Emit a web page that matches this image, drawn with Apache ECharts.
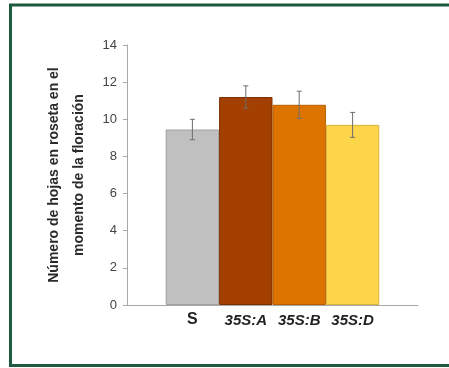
<!DOCTYPE html>
<html>
<head>
<meta charset="utf-8">
<script src="https://cdn.jsdelivr.net/npm/echarts@6/dist/echarts.min.js"></script>
<style>html,body{margin:0;padding:0;background:#fff;}#c{width:449px;height:368px;}</style>
</head>
<body>
<div id="c"></div>
<script>
var lineas = ['S', '35S:A', '35S:B', '35S:D'];
var hojas = [9.45, 11.2, 10.78, 9.7];
var errores = [0.55, 0.6, 0.73, 0.67];
var colores = ['#c0c0c0', '#a33f00', '#dd7400', '#fdd54a'];
var bordes = ['#a0a0a0', '#7d3000', '#b85f00', '#d8b23a'];
var yTicks = [0, 2, 4, 6, 8, 10, 12, 14];

var GAP = 0.266;
var chart = echarts.init(document.getElementById('c'));
var series = lineas.map(function (n, i) {
  return {
    name: n, type: 'bar', data: [hojas[i]], barGap: '0%', barCategoryGap: (GAP * 100) + '%',
    itemStyle: { color: colores[i], borderColor: bordes[i], borderWidth: 1 },
    label: {
      show: true, position: 'bottom', distance: i === 0 ? 7 : 8, formatter: n,
      fontFamily: '"Liberation Sans Narrow", "Arial Narrow", "Liberation Sans"',
      fontStyle: i === 0 ? 'normal' : 'italic', fontWeight: 'bold',
      fontSize: i === 0 ? 16 : 15, color: '#222'
    }
  };
});
series.push({
  type: 'custom', z: 10,
  data: hojas.map(function (v, i) { return [0, v, errores[i], i]; }),
  encode: { x: 0, y: 1 },
  renderItem: function (params, api) {
    var v = api.value(1), e = api.value(2), i = api.value(3);
    var c = api.coord([0, v]);
    var band = api.size([1, 0])[0];
    var bw = band * (1 - GAP) / lineas.length;
    var x = c[0] + (i - (lineas.length - 1) / 2) * bw;
    var yt = api.coord([0, v + e])[1], yb = api.coord([0, v - e])[1];
    var st = { stroke: '#6e6e6e', lineWidth: 1 };
    return { type: 'group', children: [
      { type: 'line', shape: { x1: x, y1: yt, x2: x, y2: yb }, style: st },
      { type: 'line', shape: { x1: x - 2.5, y1: yt, x2: x + 2.5, y2: yt }, style: st },
      { type: 'line', shape: { x1: x - 2.5, y1: yb, x2: x + 2.5, y2: yb }, style: st }
    ]};
  }
});

chart.setOption({
  animation: false,
  backgroundColor: '#fff',
  graphic: [{ type: 'rect', shape: { x: 10.5, y: 5, width: 470, height: 360.5 }, style: { fill: 'none', stroke: '#1c5b3e', lineWidth: 3 }, silent: true }],
  grid: { left: 127, right: 31, top: 45, bottom: 63 },
  xAxis: {
    type: 'category', data: [''],
    axisLine: { lineStyle: { color: '#a8a8a8' } },
    axisTick: { show: false }, axisLabel: { show: false }
  },
  yAxis: {
    type: 'value', min: 0, max: 14, interval: 2,
    name: 'Número de hojas en roseta en el\nmomento de la floración',
    nameLocation: 'middle', nameGap: 35, nameRotate: 90,
    nameTextStyle: { fontFamily: 'Liberation Sans', fontWeight: 'bold', fontSize: 14, lineHeight: 25, color: '#2a2a2a', align: 'center' },
    axisLine: { show: true, lineStyle: { color: '#a8a8a8' } },
    axisTick: { show: true, length: 4, lineStyle: { color: '#a8a8a8' } },
    splitLine: { show: false },
    axisLabel: { margin: 10, fontFamily: 'Liberation Sans', fontSize: 13, color: '#444',
      formatter: function (v) { return yTicks.indexOf(v) >= 0 ? String(v) : ''; } }
  },
  series: series
});
</script>
</body>
</html>
